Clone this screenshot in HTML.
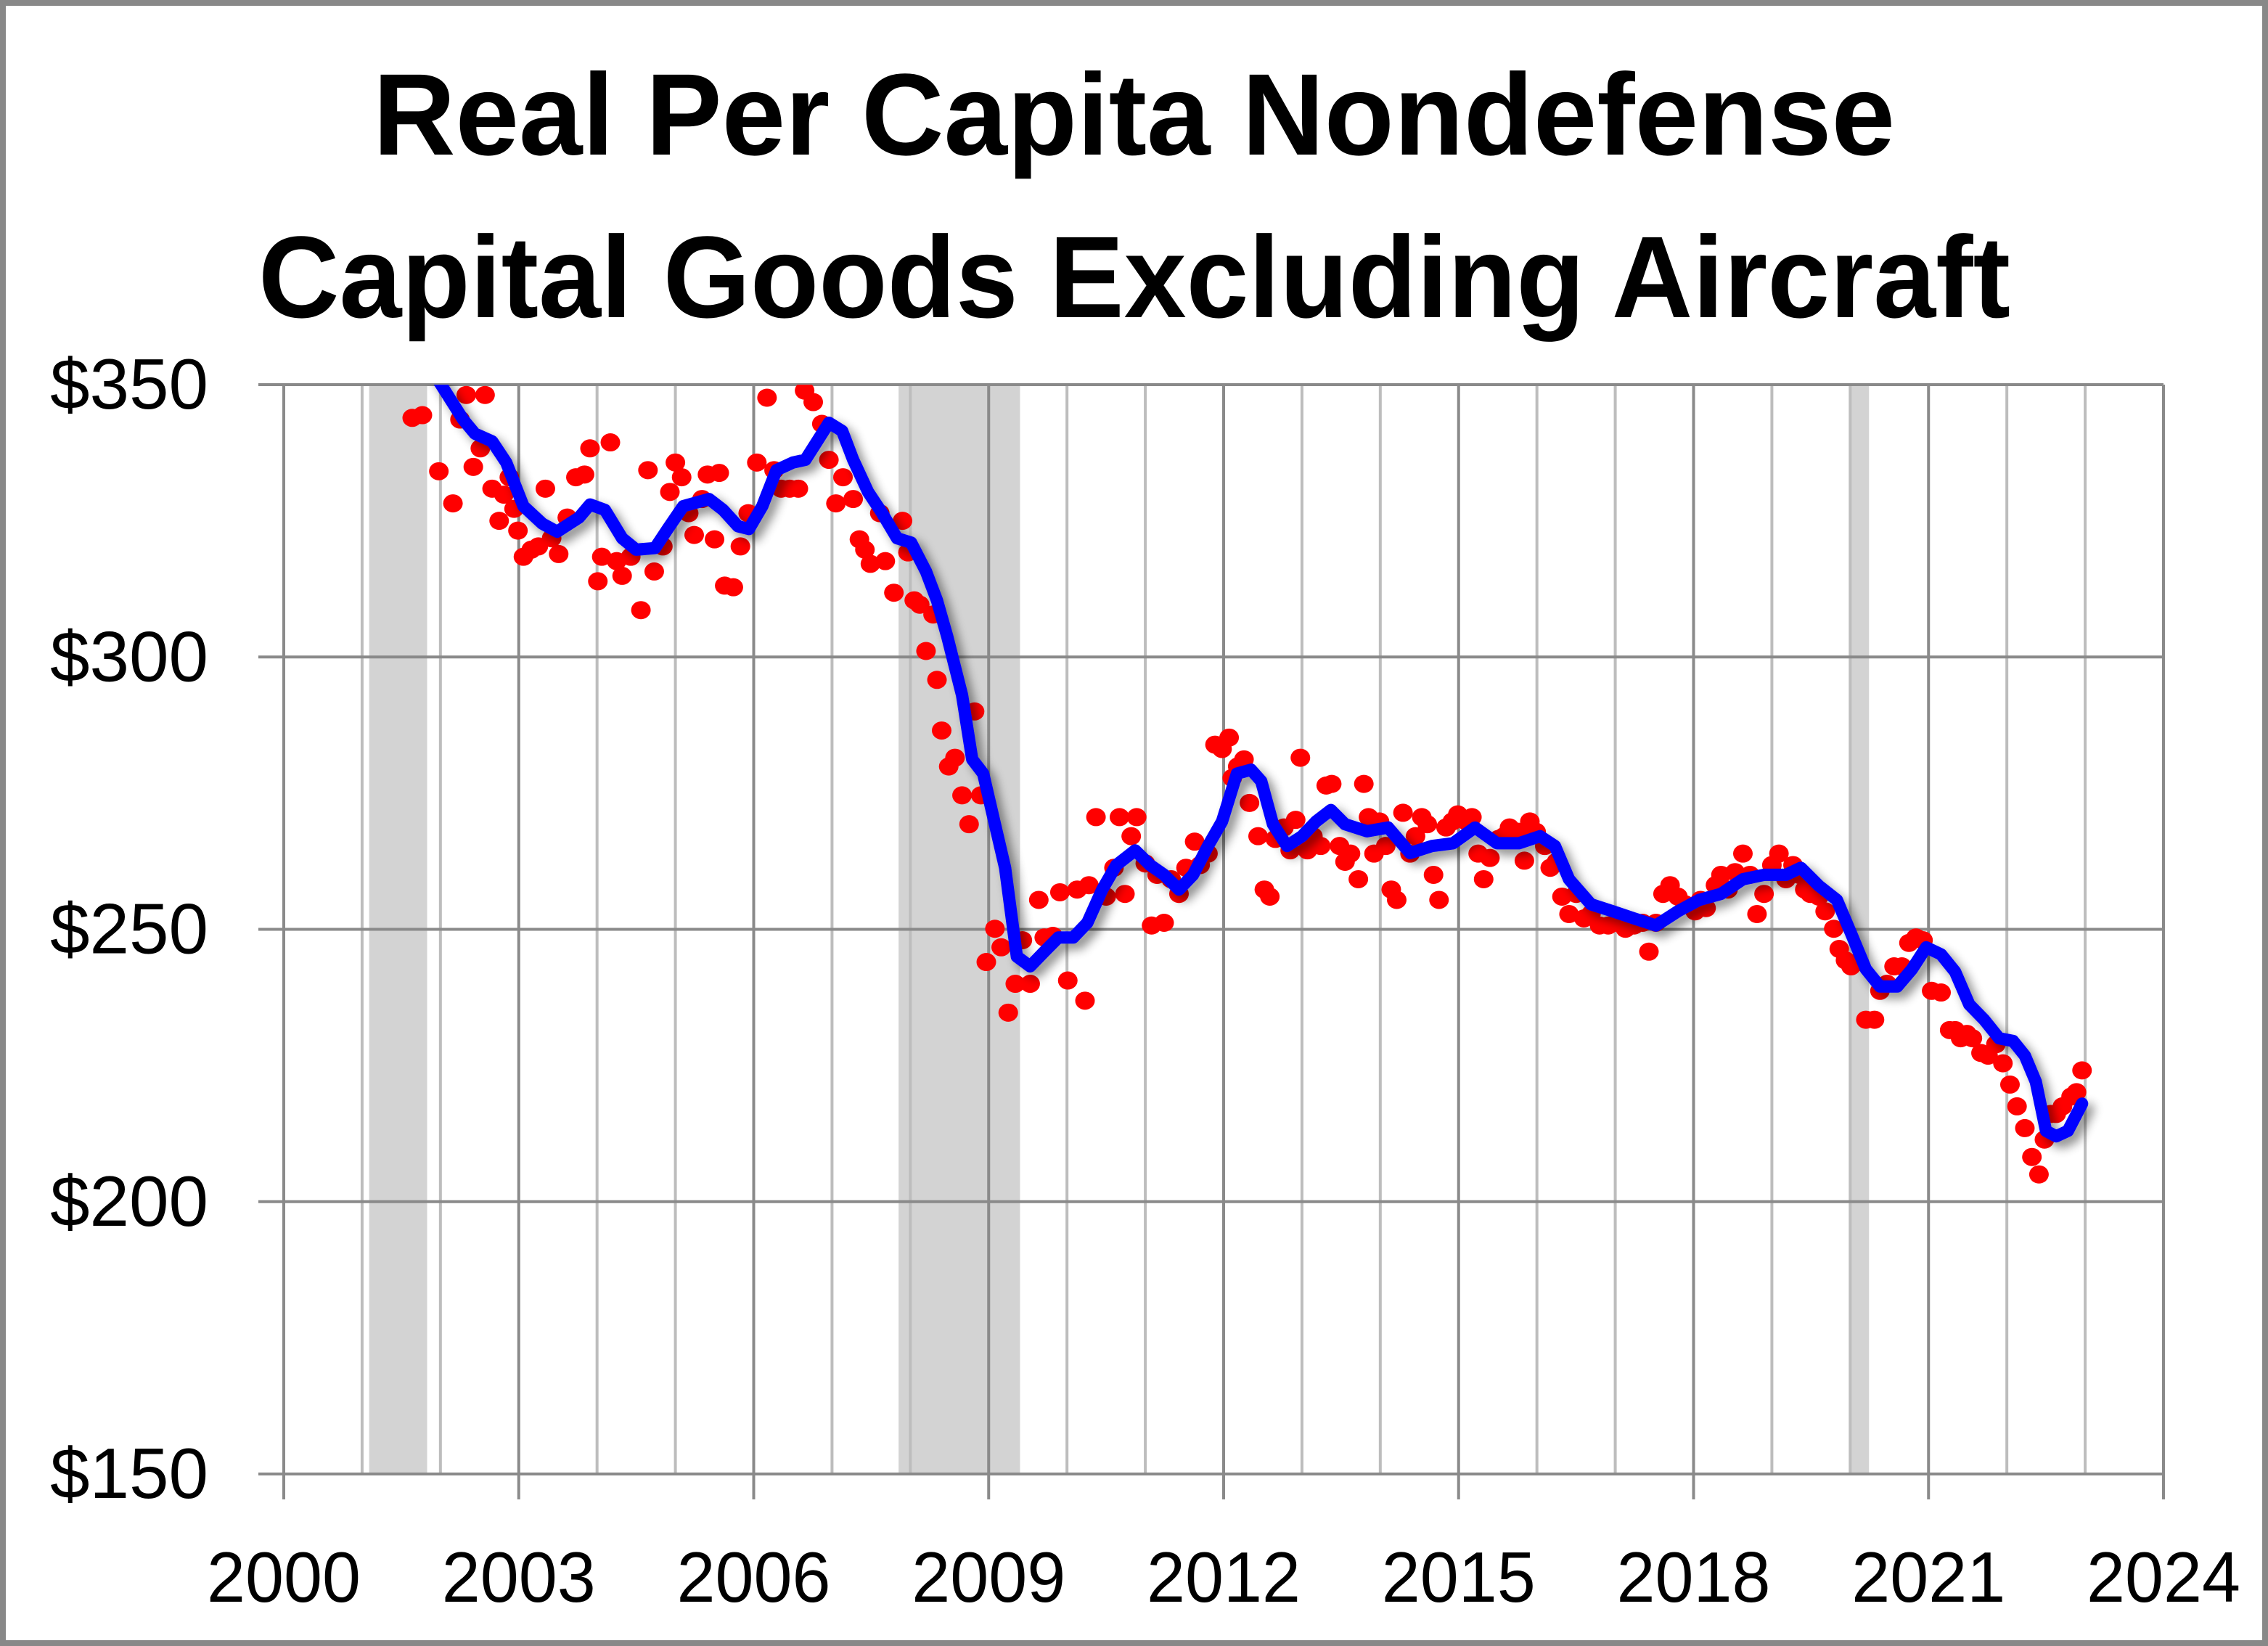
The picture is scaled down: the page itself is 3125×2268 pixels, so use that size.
<!DOCTYPE html>
<html><head><meta charset="utf-8">
<style>
html,body{margin:0;padding:0;background:#fff;}
svg{display:block;}
</style></head>
<body>
<svg id="chart" width="3125" height="2268" viewBox="0 0 3125 2268" xmlns="http://www.w3.org/2000/svg">
<defs>
<filter id="sh" x="-5%" y="-5%" width="110%" height="110%"><feGaussianBlur in="SourceAlpha" stdDeviation="7"/><feOffset dx="8" dy="8"/><feComponentTransfer><feFuncA type="linear" slope="0.45"/></feComponentTransfer><feMerge><feMergeNode/><feMergeNode in="SourceGraphic"/></feMerge></filter>
<clipPath id="plotclip"><rect x="391" y="530" width="2590" height="1501"/></clipPath>
</defs>
<rect x="0" y="0" width="3125" height="2268" fill="#fff"/>
<rect x="4" y="4" width="3117" height="2260" fill="none" stroke="#888" stroke-width="8"/>
<g font-family="'Liberation Sans', sans-serif" font-weight="bold" font-size="160" fill="#000">
<text x="514" y="213" textLength="2097" lengthAdjust="spacingAndGlyphs">Real Per Capita Nondefense</text>
<text x="356" y="437" textLength="2414" lengthAdjust="spacingAndGlyphs">Capital Goods Excluding Aircraft</text>
</g>
<g id="bands"></g>
<g id="grid"></g>
<g id="axes"></g>
<g id="dots" clip-path="url(#plotclip)"></g>
<g id="line" clip-path="url(#plotclip)"></g>
</svg>
<script>
const recessionStarts = [2001.09, 2007.85, 2020.0];
const recessionEnds = [2001.83, 2009.40, 2020.24];
const yTicks = [150, 200, 250, 300, 350];
const yTickLabels = ["$150", "$200", "$250", "$300", "$350"];
const xTicks = [2000, 2003, 2006, 2009, 2012, 2015, 2018, 2021, 2024];
const xTickLabels = ["2000", "2003", "2006", "2009", "2012", "2015", "2018", "2021", "2024"];
const lineYears = [2001.92,2002.29,2002.44,2002.66,2002.84,2003.06,2003.30,2003.49,2003.77,2003.91,2004.10,2004.32,2004.50,2004.74,2004.91,2005.10,2005.43,2005.61,2005.80,2005.94,2006.11,2006.29,2006.50,2006.66,2006.81,2006.96,2007.13,2007.27,2007.46,2007.64,2007.83,2008.01,2008.20,2008.34,2008.47,2008.66,2008.79,2008.93,2009.08,2009.21,2009.36,2009.53,2009.71,2009.89,2010.08,2010.26,2010.45,2010.63,2010.87,2011.06,2011.24,2011.43,2011.61,2011.80,2011.98,2012.17,2012.35,2012.48,2012.63,2012.81,2013.00,2013.18,2013.37,2013.55,2013.83,2014.10,2014.38,2014.66,2014.93,2015.21,2015.49,2015.77,2016.04,2016.23,2016.41,2016.69,2016.97,2017.24,2017.52,2017.80,2018.07,2018.35,2018.63,2018.90,2019.18,2019.37,2019.60,2019.83,2020.01,2020.20,2020.38,2020.60,2020.79,2020.97,2021.16,2021.34,2021.52,2021.71,2021.90,2022.08,2022.23,2022.37,2022.50,2022.63,2022.78,2022.96];
const lineValues = [352,343.6,341,339.6,335.7,327.7,324.5,323,325.6,328,327,321.8,319.7,320,323.7,327.7,329,327,324,323.5,327.7,334.3,335.7,336.2,339.6,343,341.5,336.2,330.3,326.4,321.8,321,315.7,310.4,303.8,293,281.2,278.6,269.3,261.3,245,243.2,245.9,248.5,248.5,251.2,257.3,261.8,264.5,261.8,260,257.3,260,265.3,269.8,278.6,279.3,277.2,269.3,265.3,267.1,269.8,271.9,269.3,268,268.7,264,265.3,265.8,268.7,265.8,265.8,267.1,265.3,259.2,254.6,253.3,252,250.7,253.3,255.4,256.5,259.2,260,260,261.3,258,255.4,249.3,242.7,239.5,239.5,242.7,246.7,245.4,242.2,236.2,233.4,230,229.5,226.8,222,213,212,213,218];
const dotYears = [2001.64,2001.77,2001.98,2002.16,2002.25,2002.33,2002.42,2002.51,2002.57,2002.66,2002.75,2002.81,2002.88,2002.94,2002.99,2003.06,2003.16,2003.25,2003.34,2003.42,2003.51,2003.62,2003.73,2003.84,2003.91,2004.01,2004.06,2004.17,2004.25,2004.32,2004.43,2004.56,2004.65,2004.73,2004.84,2004.93,2005.00,2005.08,2005.17,2005.24,2005.34,2005.41,2005.50,2005.56,2005.63,2005.74,2005.83,2005.93,2006.04,2006.17,2006.26,2006.35,2006.46,2006.57,2006.65,2006.76,2006.87,2006.96,2007.05,2007.14,2007.27,2007.35,2007.42,2007.49,2007.61,2007.68,2007.79,2007.90,2007.97,2008.05,2008.12,2008.20,2008.29,2008.34,2008.40,2008.49,2008.57,2008.66,2008.75,2008.82,2008.90,2008.97,2009.08,2009.16,2009.25,2009.34,2009.43,2009.53,2009.64,2009.71,2009.82,2009.91,2010.01,2010.13,2010.23,2010.28,2010.37,2010.50,2010.60,2010.67,2010.74,2010.82,2010.89,2011.00,2011.08,2011.15,2011.24,2011.33,2011.43,2011.52,2011.63,2011.70,2011.80,2011.89,2011.98,2012.07,2012.11,2012.18,2012.26,2012.33,2012.44,2012.52,2012.59,2012.66,2012.77,2012.85,2012.92,2012.98,2013.07,2013.14,2013.24,2013.31,2013.38,2013.48,2013.55,2013.62,2013.72,2013.79,2013.85,2013.92,2013.99,2014.07,2014.14,2014.21,2014.29,2014.38,2014.45,2014.53,2014.60,2014.68,2014.75,2014.84,2014.92,2014.99,2015.10,2015.17,2015.25,2015.32,2015.40,2015.51,2015.58,2015.65,2015.77,2015.84,2015.91,2015.99,2016.10,2016.17,2016.25,2016.32,2016.41,2016.50,2016.60,2016.69,2016.80,2016.91,2017.02,2017.13,2017.24,2017.35,2017.43,2017.52,2017.61,2017.70,2017.80,2017.89,2018.02,2018.09,2018.16,2018.28,2018.35,2018.44,2018.53,2018.63,2018.72,2018.81,2018.90,2019.00,2019.09,2019.18,2019.27,2019.35,2019.42,2019.49,2019.60,2019.68,2019.79,2019.86,2019.94,2020.01,2020.10,2020.20,2020.31,2020.38,2020.47,2020.56,2020.66,2020.75,2020.84,2020.93,2021.04,2021.16,2021.27,2021.34,2021.41,2021.49,2021.56,2021.67,2021.76,2021.86,2021.95,2022.04,2022.13,2022.23,2022.32,2022.41,2022.48,2022.56,2022.63,2022.71,2022.82,2022.89,2022.96];
const dotValues = [343.9,344.4,334.1,328.2,343.6,348.1,334.9,338.3,348.1,330.9,325.0,329.8,333.0,327.2,323.2,318.4,319.7,320.3,330.9,321.8,318.9,325.6,333.0,333.5,338.3,313.9,318.4,339.4,317.6,314.9,318.4,308.6,334.3,315.7,320.3,330.3,335.7,333.0,326.4,322.4,329.0,333.5,321.6,333.8,313.1,312.8,320.3,326.4,335.7,347.6,334.3,330.9,330.9,330.9,348.9,346.8,342.8,336.2,328.2,333.0,329.0,321.6,319.7,317.1,326.4,317.6,311.8,325.0,319.2,310.4,309.6,301.1,307.8,295.8,286.5,279.9,281.5,274.6,269.3,290.0,274.6,244.0,250.1,246.7,234.7,240.0,248.0,240.0,255.4,248.5,248.8,256.8,240.6,257.3,236.9,258.1,270.6,256.0,261.3,270.6,256.5,267.1,270.6,262.1,250.7,260.0,251.2,259.2,256.5,261.3,266.1,261.8,263.9,283.9,283.1,285.2,277.8,279.9,281.2,273.2,267.1,257.3,256.0,266.6,268.7,264.5,270.1,281.5,264.5,267.1,265.3,276.4,276.7,265.3,262.4,263.9,259.2,276.7,270.6,263.9,269.8,265.3,257.3,255.4,271.4,263.9,267.1,270.6,269.3,260.0,255.4,268.7,269.8,271.1,269.8,270.6,263.9,259.2,263.1,266.6,267.1,268.7,267.9,262.6,269.8,267.9,265.3,261.3,262.4,256.0,252.8,256.5,252.0,252.8,250.7,250.7,251.2,250.1,250.7,251.2,245.9,251.2,256.5,258.1,256.0,254.6,253.3,255.4,253.9,258.1,260.0,257.3,260.5,263.9,260.0,252.8,256.5,261.8,263.9,259.2,261.8,260.0,257.3,256.5,256.0,253.3,250.1,246.4,244.3,243.2,244.0,233.4,233.4,238.7,240.0,243.2,243.2,247.5,248.5,248.0,238.7,238.4,231.5,231.5,230.0,230.8,230.0,227.3,226.8,228.9,225.4,221.5,217.5,213.5,208.2,205.0,211.4,216.1,216.1,217.5,219.3,220.1,224.1];

const NS = "http://www.w3.org/2000/svg";
const PX0 = 391, PX1 = 2981, PY0 = 530, PY1 = 2031;
const XMIN = 2000, XMAX = 2024, YMIN = 150, YMAX = 350;
function xs(v){ return PX0 + (v - XMIN) / (XMAX - XMIN) * (PX1 - PX0); }
function ys(v){ return PY1 - (v - YMIN) / (YMAX - YMIN) * (PY1 - PY0); }
function mk(tag, attrs, parent){ const e = document.createElementNS(NS, tag); for (const k in attrs) e.setAttribute(k, attrs[k]); parent.appendChild(e); return e; }

const bands = document.getElementById('bands');
recessionStarts.forEach((s, i) => {
  const r = mk('rect', {x: xs(s), y: PY0, width: xs(recessionEnds[i]) - xs(s), height: PY1 - PY0, fill: '#d3d3d3'}, bands);
  
  
});

const grid = document.getElementById('grid');
for (let yr = XMIN + 1; yr < XMAX; yr++) {
  if (xTicks.indexOf(yr) >= 0) continue;
  const l = mk('line', {x1: xs(yr), x2: xs(yr), y1: PY0, y2: PY1, stroke: '#bdbdbd', 'stroke-width': 4}, grid);
  
  
}
xTicks.forEach(t => {
  const l = mk('line', {x1: xs(t), x2: xs(t), y1: PY0, y2: PY1 + 35, stroke: '#8a8a8a', 'stroke-width': 4}, grid);
  
  
});
yTicks.forEach(t => {
  const l = mk('line', {x1: PX0 - 35, x2: PX1, y1: ys(t), y2: ys(t), stroke: '#8a8a8a', 'stroke-width': 4}, grid);
  
  
});

const axes = document.getElementById('axes');
yTicks.forEach((t, i) => {
  const tx = mk('text', {x: 287, y: ys(t) + 33, 'text-anchor': 'end', 'font-family': "'Liberation Sans', sans-serif", 'font-size': 98, fill: '#000'}, axes);
  tx.textContent = yTickLabels[i];
  
  
});
xTicks.forEach((t, i) => {
  const tx = mk('text', {x: xs(t), y: 2207, 'text-anchor': 'middle', 'font-family': "'Liberation Sans', sans-serif", 'font-size': 98, fill: '#000', textLength: 212, lengthAdjust: 'spacingAndGlyphs'}, axes);
  tx.textContent = xTickLabels[i];
  
  
});

const dots = document.getElementById('dots');
dotYears.forEach((yr, i) => {
  const c = mk('ellipse', {cx: xs(yr), cy: ys(dotValues[i]), rx: 13.5, ry: 12.5, fill: '#ff0000'}, dots);
  
  
});

const lineG = document.getElementById('line');
const d = lineYears.map((yr, i) => (i ? 'L' : 'M') + xs(yr).toFixed(1) + ',' + ys(lineValues[i]).toFixed(1)).join(' ');
const p = mk('path', {d: d, fill: 'none', stroke: '#0000ff', 'stroke-width': 17, 'stroke-linejoin': 'round', 'stroke-linecap': 'round', filter: 'url(#sh)'}, lineG);


</script>
</body></html>
